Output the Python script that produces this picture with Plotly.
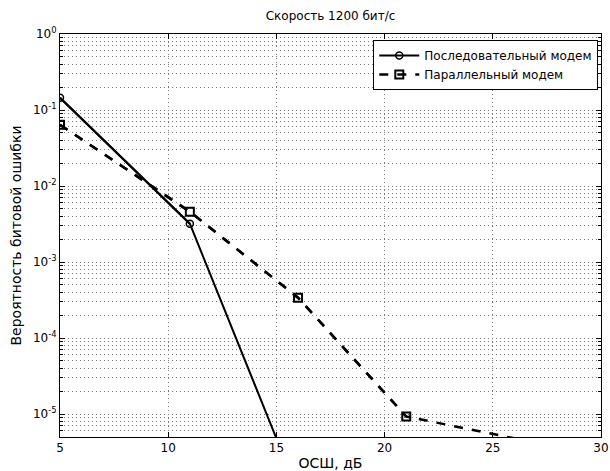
import plotly.graph_objects as go

snr_serial = [5, 11, 15]
ber_serial = [0.145, 0.0032, 4.8e-6]
snr_parallel = [5, 11, 16, 21, 26]
ber_parallel = [0.064, 0.0046, 3.4e-4, 9.3e-6, 4.8e-6]

name_serial = "Последовательный модем"
name_parallel = "Параллельный модем"
title = "Скорость 1200 бит/с"
xlabel = "ОСШ, дБ"
ylabel = "Вероятность битовой ошибки"
xticks = [5, 10, 15, 20, 25, 30]
yexp = [0, -1, -2, -3, -4, -5]
yminor = [m * 10 ** e for e in range(-6, 0) for m in range(2, 10)]
y_low = 5e-6

font = "DejaVu Sans, Liberation Sans, Arial, sans-serif"


def in_range(xs, ys):
    # like MATLAB: markers whose point falls outside the axes are not drawn
    pts = [(x, y) for x, y in zip(xs, ys) if y >= y_low]
    return [p[0] for p in pts], [p[1] for p in pts]


fig = go.Figure()


def add_series(xs, ys, name, line, marker):
    # full line (reaches below the axis limit, clipped)
    fig.add_trace(go.Scatter(x=xs, y=ys, mode="lines", line=line,
                             showlegend=False, legendgroup=name, hoverinfo="skip"))
    mx, my = in_range(xs, ys)
    fig.add_trace(go.Scatter(x=mx, y=my, name=name, mode="lines+markers",
                             line=line, marker=marker, legendgroup=name))


add_series(snr_serial, ber_serial, name_serial,
           dict(color="black", width=2),
           dict(symbol="circle-open", size=7, color="black", line=dict(width=1.5)))
add_series(snr_parallel, ber_parallel, name_parallel,
           dict(color="black", width=2.5, dash="dash"),
           dict(symbol="square-open", size=8, color="black", line=dict(width=2)))

grid_color = "#7a7a7a"
gdash = "1px,3px"
fig.update_layout(
    width=610, height=471,
    margin=dict(l=60, r=9, t=34, b=34, autoexpand=False),
    paper_bgcolor="white", plot_bgcolor="white",
    font=dict(family=font, size=12, color="black"),
    title=dict(text=title, x=0.5, xanchor="center", xref="paper",
               y=1, yref="container", yanchor="top", pad=dict(t=12),
               font=dict(size=12)),
    showlegend=True,
    legend=dict(x=0.995, xanchor="right", y=0.985, yanchor="top",
                bgcolor="white", bordercolor="black", borderwidth=1,
                font=dict(size=12), tracegroupgap=0, itemwidth=40),
    xaxis=dict(
        range=[5, 30], tickvals=xticks, ticktext=[str(v) for v in xticks],
        ticks="inside", ticklen=5, tickcolor="black", mirror="ticks",
        showline=True, linecolor="black", linewidth=1,
        showgrid=True, gridcolor=grid_color, griddash=gdash, gridwidth=1,
        zeroline=False, automargin=False,
        title=dict(text=xlabel, standoff=3),
    ),
    yaxis=dict(
        type="log", range=[-5.301, 0],
        tickvals=[10 ** e for e in yexp],
        ticktext=["10<sup>%d</sup>" % e for e in yexp],
        ticks="inside", ticklen=5, tickcolor="black", mirror="ticks",
        showline=True, linecolor="black", linewidth=1,
        showgrid=True, gridcolor=grid_color, griddash=gdash, gridwidth=1,
        zeroline=False, automargin=False,
        minor=dict(tickvals=yminor, ticks="inside", ticklen=3, tickcolor="black",
                   showgrid=True, gridcolor=grid_color, griddash=gdash, gridwidth=1),
        title=dict(text=ylabel, standoff=8),
    ),
)

fig.write_html(
    "out.html",
    config={"displayModeBar": False},
    post_script="document.body.style.margin='0';document.body.style.overflow='hidden';",
)
